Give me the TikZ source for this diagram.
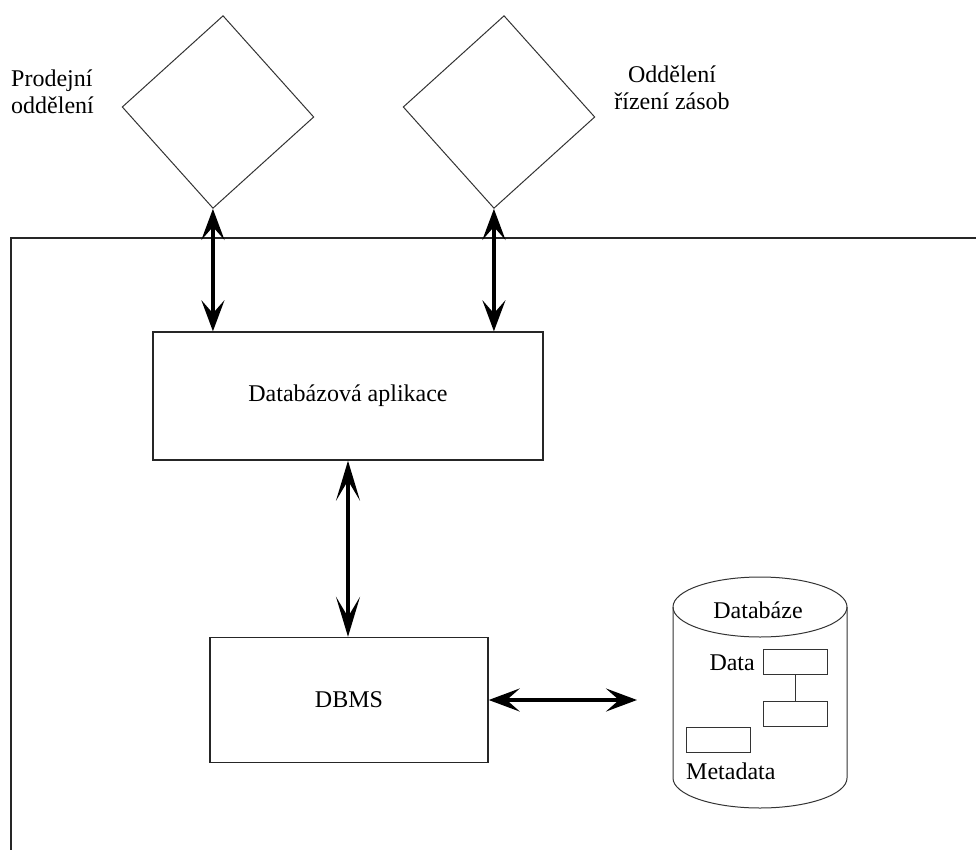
\documentclass[tikz,border=0pt]{standalone}
\usepackage{fontspec}
\setmainfont{Liberation Serif}
\usetikzlibrary{shapes.geometric,arrows.meta}
\begin{document}
\begin{tikzpicture}[x=1pt,y=-1pt,
  dept/.style={draw=black!80, line width=1pt, shape=diamond, inner sep=0pt, minimum width=192pt, minimum height=193pt, rotate=-3},
  boxnode/.style={draw=black!85, line width=1.4pt, inner sep=0pt},
  small/.style={draw=black!80, line width=1pt, inner sep=0pt, minimum width=64pt, minimum height=25pt},
  lbl/.style={font=\fontsize{24}{27}\selectfont, align=left, inner sep=0pt},
  biarrow/.style={line width=3.6pt, {Stealth[length=31pt,width=23pt,inset=13pt]}-{Stealth[length=31pt,width=23pt,inset=13pt]}},
  longbiarrow/.style={line width=3.6pt, {Stealth[length=40pt,width=24pt,inset=20pt]}-{Stealth[length=40pt,width=24pt,inset=20pt]}}
]
\useasboundingbox (0,0) rectangle (976,850);
% container
\draw[line width=1.3pt, black!85] (11,860) -- (11,238) -- (990,238);
% departments
\node[dept] (d1) at (218,112) {};
\node[dept] (d2) at (499,112) {};
\node[lbl, anchor=west] (t1) at (11,92) {Prodejní\\oddělení};
\node[lbl, align=center] (t2) at (672,88) {Oddělení\\řízení zásob};
% boxes
\node[boxnode, minimum width=390pt, minimum height=128pt, font=\fontsize{24}{26}\selectfont] (app) at (348,396) {Databázová aplikace};
\node[boxnode, minimum width=278pt, minimum height=125pt, font=\fontsize{24}{26}\selectfont] (dbms) at (349,700) {DBMS};
% arrows
\draw[biarrow] (d1.south) -- (d1.south |- app.north);
\draw[biarrow] (d2.south) -- (d2.south |- app.north);
\draw[longbiarrow] (app.south) -- (app.south |- dbms.north);
\coordinate (dbend) at (637,700);
\draw[biarrow] (dbms.east) -- (dbend);
% cylinder
\draw[draw=black!80, line width=1pt] (760,607) ellipse [x radius=87, y radius=30];
\draw[draw=black!80, line width=1pt] (673,607) -- (673,778) arc[start angle=180, end angle=360, x radius=87, y radius=-30] -- (847,607);
\node[lbl] (dbt) at (758,610) {Databáze};
\node[small] (r1) at (795,662) {};
\node[small] (r2) at (795,714) {};
\node[small] (r3) at (718,740) {};
\draw[line width=1pt, black!80] (r1.south) -- (r2.north);
\node[lbl, anchor=east] (dt) at (755,663) {Data};
\node[lbl, anchor=west] (mt) at (686,771) {Metadata};
\end{tikzpicture}
\end{document}
